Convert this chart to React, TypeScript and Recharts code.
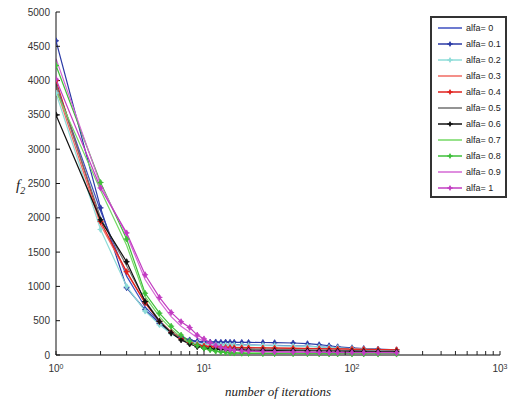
import { LineChart, Line, XAxis, YAxis, Legend } from "recharts";

const ITER = [1, 2, 3, 4, 5, 6, 7, 8, 9, 10, 11, 12, 13, 14, 15, 16, 18, 20, 25, 30, 40, 50, 60, 70, 80, 100, 120, 150, 200];

const A00 = [3950, 2100, 1150, 700, 480, 330, 250, 210, 190, 175, 165, 160, 158, 155, 152, 150, 148, 146, 142, 140, 135, 128, 120, 112, 105, 95, 88, 80, 70];
const A01 = [4580, 2145, 980, 660, 460, 330, 260, 220, 200, 190, 188, 190, 185, 188, 186, 185, 184, 183, 182, 180, 175, 165, 150, 135, 120, 105, 95, 85, 75];
const A02 = [3820, 1830, 1000, 640, 440, 310, 240, 190, 170, 155, 150, 148, 146, 145, 144, 143, 142, 140, 138, 135, 130, 125, 118, 110, 105, 95, 88, 80, 70];
const A03 = [3900, 1900, 1200, 760, 500, 340, 250, 190, 160, 140, 130, 125, 120, 118, 115, 113, 112, 110, 108, 105, 100, 96, 92, 90, 88, 85, 82, 80, 75];
const A04 = [4000, 1945, 1215, 760, 490, 330, 240, 180, 150, 130, 120, 115, 112, 110, 108, 107, 105, 104, 102, 100, 97, 94, 92, 90, 88, 85, 83, 80, 76];
const A05 = [3950, 2000, 1300, 790, 500, 330, 230, 170, 135, 115, 105, 100, 97, 95, 93, 92, 90, 88, 85, 82, 78, 75, 72, 70, 68, 65, 62, 60, 58];
const A06 = [3500, 1970, 1360, 780, 490, 320, 220, 160, 120, 100, 90, 85, 80, 78, 76, 75, 72, 70, 67, 65, 62, 60, 58, 56, 55, 53, 52, 50, 48];
const A07 = [3850, 2400, 1600, 850, 560, 380, 260, 180, 130, 95, 75, 60, 50, 45, 40, 38, 35, 32, 30, 28, 26, 25, 24, 23, 22, 21, 20, 20, 19];
const A08 = [4220, 2515, 1690, 900, 610, 420, 290, 200, 140, 100, 75, 55, 45, 38, 32, 28, 25, 22, 20, 19, 18, 17, 16, 15, 15, 14, 14, 13, 13];
const A09 = [4320, 2480, 1750, 1100, 780, 560, 420, 330, 250, 195, 150, 120, 100, 88, 78, 70, 62, 58, 52, 50, 47, 45, 43, 42, 41, 40, 39, 38, 37];
const A10 = [4020, 2435, 1780, 1170, 840, 620, 485, 400, 290, 235, 180, 140, 110, 92, 80, 70, 60, 55, 48, 45, 42, 40, 38, 37, 36, 35, 34, 33, 32];

const Y_TICKS = [0, 500, 1000, 1500, 2000, 2500, 3000, 3500, 4000, 4500, 5000];
const X_TICKS = [1, 2, 3, 4, 5, 6, 7, 8, 9, 10, 20, 30, 40, 50, 60, 70, 80, 90, 100, 200, 300, 400, 500, 600, 700, 800, 900, 1000];
const X_MAJOR = [1, 10, 100, 1000];

const SERIES = [
  { key: "a00", name: "alfa= 0", values: A00, color: "#3d4fc0", marker: false },
  { key: "a01", name: "alfa= 0.1", values: A01, color: "#2b3aa6", marker: true },
  { key: "a02", name: "alfa= 0.2", values: A02, color: "#8edcd8", marker: true },
  { key: "a03", name: "alfa= 0.3", values: A03, color: "#f06a62", marker: false },
  { key: "a04", name: "alfa= 0.4", values: A04, color: "#e0221e", marker: true },
  { key: "a05", name: "alfa= 0.5", values: A05, color: "#707070", marker: false },
  { key: "a06", name: "alfa= 0.6", values: A06, color: "#111111", marker: true },
  { key: "a07", name: "alfa= 0.7", values: A07, color: "#74d865", marker: false },
  { key: "a08", name: "alfa= 0.8", values: A08, color: "#3fbf3a", marker: true },
  { key: "a09", name: "alfa= 0.9", values: A09, color: "#d568d5", marker: false },
  { key: "a10", name: "alfa= 1", values: A10, color: "#c23cc2", marker: true },
];

const data = ITER.map((it, i) => {
  const row: Record<string, number> = { it };
  SERIES.forEach((s) => (row[s.key] = s.values[i]));
  return row;
});

const TICK_FONT = "'Liberation Sans Narrow', 'Liberation Sans', Arial, sans-serif";

function starDot(color: string) {
  return (props: any) => {
    const { cx, cy, index } = props;
    if (cx == null || cy == null) return <g key={index} />;
    const r = 3;
    return (
      <g key={index}>
        <path d={`M${cx},${cy - r}L${cx + r * 0.6},${cy}L${cx},${cy + r}L${cx - r * 0.6},${cy}Z`} fill={color} stroke={color} strokeWidth={0.8} />
        <path d={`M${cx - r},${cy}L${cx + r},${cy}`} stroke={color} strokeWidth={1} />
      </g>
    );
  };
}

function XTick(props: any) {
  const { x, y, payload } = props;
  const v = payload.value;
  if (!X_MAJOR.includes(v)) return <g />;
  const exp = Math.round(Math.log10(v));
  return (
    <text x={x} y={y} textAnchor="middle" fontFamily={TICK_FONT} fontSize={10} fill="#333">
      <tspan dy="0.9em">10</tspan>
      <tspan dy="-0.45em" fontSize={7}>{exp}</tspan>
    </text>
  );
}

function LegendBox(props: any) {
  const payload = props.payload || [];
  return (
    <div
      style={{
        width: 73,
        height: 176,
        border: "2px solid #333",
        background: "#fff",
        boxSizing: "content-box",
        paddingTop: 2,
        textAlign: "left",
      }}
    >
      {payload.map((p: any) => {
        const s = SERIES.find((q) => q.name === p.value)!;
        return (
          <div key={p.value} style={{ height: 16, display: "flex", alignItems: "center" }}>
            <svg width={30} height={10} style={{ marginLeft: 4 }}>
              <line x1={2} y1={5} x2={26} y2={5} stroke={s.color} strokeWidth={1.5} />
              {s.marker && (
                <g>
                  <path d="M14,2L15.8,5L14,8L12.2,5Z" fill={s.color} />
                  <path d="M11,5L17,5" stroke={s.color} strokeWidth={1} />
                </g>
              )}
            </svg>
            <span style={{ fontFamily: TICK_FONT, fontSize: 9, color: "#222", whiteSpace: "nowrap" }}>{p.value}</span>
          </div>
        );
      })}
    </div>
  );
}

export default function App() {
  return (
    <div style={{ position: "absolute", left: 0, top: 0, background: "#fff" }}>
      <LineChart width={515} height={407} data={data} margin={{ top: 12, right: 15, bottom: 22, left: 0 }}>
        <XAxis
          dataKey="it"
          type="number"
          scale="log"
          domain={[1, 1000]}
          ticks={X_TICKS}
          interval={0}
          tick={<XTick />}
          tickSize={-4}
          tickMargin={12}
          height={30}
          allowDataOverflow
          axisLine={{ stroke: "#808080", strokeWidth: 2 }}
          tickLine={{ stroke: "#222" }}
          label={{
            content: () => (
              <text x={278} y={396} textAnchor="middle" fontFamily="'Liberation Serif', serif" fontStyle="italic" fontSize={13} fill="#222">
                number of iterations
              </text>
            ),
          }}
        />
        <YAxis
          type="number"
          domain={[0, 5000]}
          ticks={Y_TICKS}
          interval={0}
          width={56}
          tickSize={-4}
          tickMargin={10}
          axisLine={{ stroke: "#111" }}
          tickLine={{ stroke: "#111" }}
          tick={{ fontFamily: TICK_FONT, fontSize: 10, fill: "#333" }}
          label={{
            content: () => (
              <text x={16} y={190} fontFamily="'Liberation Serif', serif" fontStyle="italic" fontSize={15} fill="#222">
                f<tspan dy="4" fontSize={10}>2</tspan>
              </text>
            ),
          }}
        />
        <Legend
          content={<LegendBox />}
          layout="vertical"
          verticalAlign="middle"
          align="center"
          wrapperStyle={{ left: 430, top: 16, width: 77, height: 180 }}
        />
        {SERIES.map((s) => (
          <Line
            key={s.key}
            dataKey={s.key}
            name={s.name}
            type="linear"
            stroke={s.color}
            strokeWidth={1.2}
            dot={s.marker ? starDot(s.color) : false}
            activeDot={false}
            isAnimationActive={false}
          />
        ))}
      </LineChart>
    </div>
  );
}
